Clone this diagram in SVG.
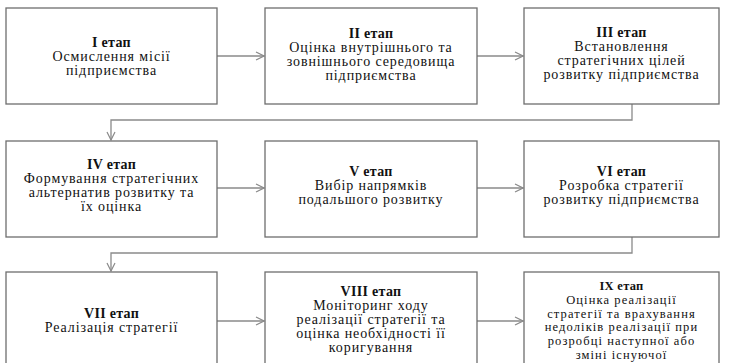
<svg xmlns="http://www.w3.org/2000/svg" width="729" height="363" viewBox="0 0 729 363">
<style>
.box{fill:#fff;stroke:#6e6e6e;stroke-width:1.3}
.t{font-family:'Liberation Serif','DejaVu Serif',serif;font-size:14px;letter-spacing:0.9px;fill:#111;text-anchor:middle}
.s{font-size:12.5px;letter-spacing:1.1px}
.b{font-weight:bold;letter-spacing:0.3px}
.c{fill:none;stroke:#8a8a8a;stroke-width:1.3}
</style>
<defs>
<marker id="ah" markerWidth="10" markerHeight="10" refX="9" refY="5" orient="auto" markerUnits="userSpaceOnUse">
<path d="M1,1 L9,5 L1,9" fill="none" stroke="#8a8a8a" stroke-width="1.2"/>
</marker>
</defs>
<rect width="729" height="363" fill="#fff"/>
<g id="connectors">
<line class="c" x1="217" y1="56" x2="264" y2="56" marker-end="url(#ah)"/>
<line class="c" x1="477" y1="56" x2="523" y2="56" marker-end="url(#ah)"/>
<polyline class="c" points="632,104 632,120 111,120 111,140" marker-end="url(#ah)"/>
<line class="c" x1="217" y1="188" x2="264" y2="188" marker-end="url(#ah)"/>
<line class="c" x1="477" y1="188" x2="523" y2="188" marker-end="url(#ah)"/>
<polyline class="c" points="632,237 632,253 111,253 111,271" marker-end="url(#ah)"/>
<line class="c" x1="217" y1="321" x2="264" y2="321" marker-end="url(#ah)"/>
<line class="c" x1="477" y1="321" x2="523" y2="321" marker-end="url(#ah)"/>
</g>
<g id="n1">
<rect class="box" x="6" y="8" width="211" height="96"/>
<text class="t b" x="111.5" y="47">I етап</text>
<text class="t" x="111.5" y="61">Осмислення місії</text>
<text class="t" x="111.5" y="75">підприємства</text>
</g>
<g id="n2">
<rect class="box" x="265" y="8" width="212" height="96"/>
<text class="t b" x="371" y="38">II етап</text>
<text class="t" x="371" y="52">Оцінка внутрішнього та</text>
<text class="t" x="371" y="66">зовнішнього середовища</text>
<text class="t" x="371" y="80">підприємства</text>
</g>
<g id="n3">
<rect class="box" x="524" y="8" width="195" height="96"/>
<text class="t b" x="621.5" y="37">III етап</text>
<text class="t" x="621.5" y="51">Встановлення</text>
<text class="t" x="621.5" y="65">стратегічних цілей</text>
<text class="t" x="621.5" y="79">розвитку підприємства</text>
</g>
<g id="n4">
<rect class="box" x="6" y="141" width="211" height="96"/>
<text class="t b" x="111.5" y="169">IV етап</text>
<text class="t" x="111.5" y="183">Формування стратегічних</text>
<text class="t" x="111.5" y="197">альтернатив розвитку та</text>
<text class="t" x="111.5" y="211">їх оцінка</text>
</g>
<g id="n5">
<rect class="box" x="265" y="141" width="212" height="96"/>
<text class="t b" x="371" y="176">V етап</text>
<text class="t" x="371" y="190">Вибір напрямків</text>
<text class="t" x="371" y="204">подальшого розвитку</text>
</g>
<g id="n6">
<rect class="box" x="524" y="141" width="195" height="96"/>
<text class="t b" x="621.5" y="176">VI етап</text>
<text class="t" x="621.5" y="190">Розробка стратегії</text>
<text class="t" x="621.5" y="204">розвитку підприємства</text>
</g>
<g id="n7">
<rect class="box" x="6" y="272" width="211" height="100"/>
<text class="t b" x="111.5" y="318">VII етап</text>
<text class="t" x="111.5" y="332">Реалізація стратегії</text>
</g>
<g id="n8">
<rect class="box" x="265" y="272" width="212" height="100"/>
<text class="t b" x="371" y="296">VIII етап</text>
<text class="t" x="371" y="310">Моніторинг ходу</text>
<text class="t" x="371" y="324">реалізації стратегії та</text>
<text class="t" x="371" y="338">оцінка необхідності її</text>
<text class="t" x="371" y="352">коригування</text>
</g>
<g id="n9">
<rect class="box" x="524" y="272" width="195" height="100"/>
<text class="t b s" x="621.5" y="290">IX етап</text>
<text class="t s" x="621.5" y="303.8">Оцінка реалізації</text>
<text class="t s" x="621.5" y="317.6">стратегії та врахування</text>
<text class="t s" x="621.5" y="331.4">недоліків реалізації при</text>
<text class="t s" x="621.5" y="345.2">розробці наступної або</text>
<text class="t s" x="621.5" y="359">зміні існуючої</text>
</g>
</svg>
